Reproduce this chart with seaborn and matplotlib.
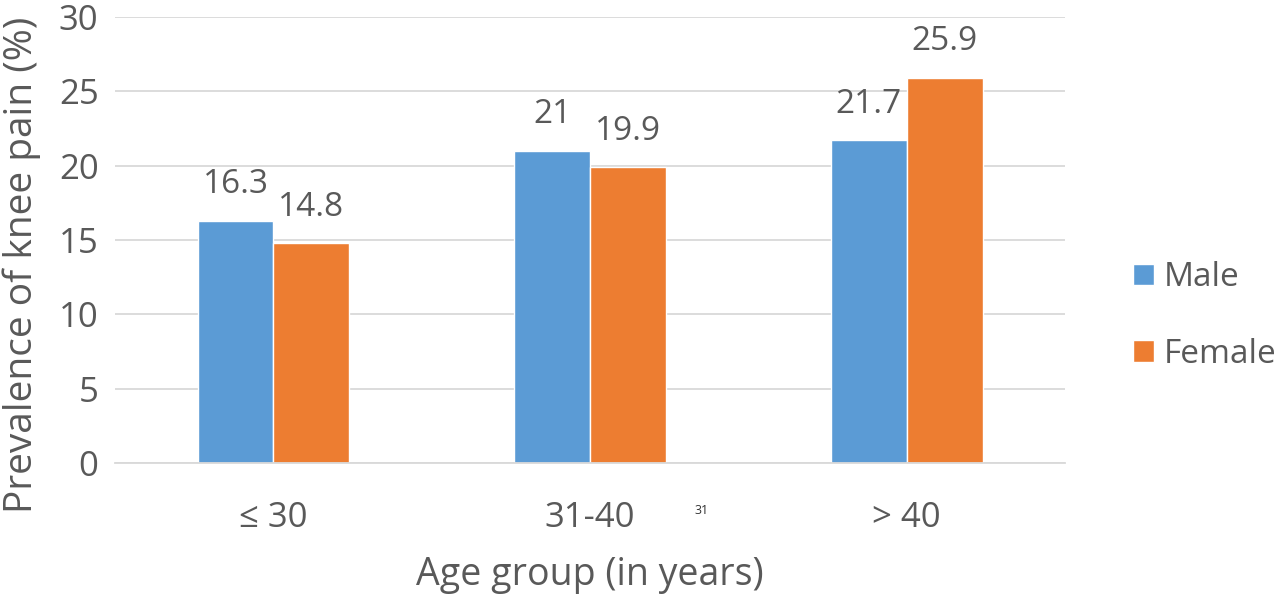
import matplotlib
matplotlib.use("Agg")
import matplotlib.pyplot as plt
import seaborn as sns
import pandas as pd

categories = ["\u2264 30", "31-40", "> 40"]
male = [16.3, 21, 21.7]
female = [14.8, 19.9, 25.9]
series = ["Male", "Female"]
colors = ["#5B9BD5", "#ED7D31"]

df = pd.DataFrame({
    "Age": categories * 2,
    "Sex": ["Male"] * 3 + ["Female"] * 3,
    "Value": male + female,
})

sns.set_theme(style="white")
plt.rcParams['font.family'] = ['Open Sans', 'DejaVu Sans']
text_color = "#595959"

fig = plt.figure(figsize=(12.8, 6), dpi=100)
ax = fig.add_axes([0.09, 0.228, 0.742, 0.744])
sns.barplot(data=df, x="Age", y="Value", hue="Sex", order=categories, hue_order=series,
            palette=colors, width=0.48, ax=ax, saturation=1, legend=True)

ax.set_ylim(0, 30)
ax.set_xlim(-0.5, 2.5)
ax.set_yticks(range(0, 31, 5))
ax.yaxis.grid(True, color="#D9D9D9", linewidth=1.3)
ax.set_axisbelow(True)
for s in ["top", "right", "left"]:
    ax.spines[s].set_visible(False)
ax.spines["bottom"].set_color("#D9D9D9")
ax.spines["bottom"].set_linewidth(1.3)
ax.tick_params(axis="both", length=0, labelsize=25, labelcolor=text_color)
ax.tick_params(axis="y", pad=12)
ax.tick_params(axis="x", pad=27)
ax.set_xlabel("Age group (in years)", fontsize=27, color=text_color, labelpad=15)
ax.set_ylabel("Prevalence of knee pain (%)", fontsize=28, color=text_color)
ax.yaxis.set_label_coords(-0.098, 0.444)
ax.yaxis.label.set_verticalalignment("center")
ax.yaxis.label.set_horizontalalignment("center")

for cont in ax.containers:
    labels = [("%g" % b.get_height()) for b in cont]
    ax.bar_label(cont, labels=labels, padding=14, fontsize=24, color=text_color)

leg = ax.legend(loc="center left", bbox_to_anchor=(1.072, 0.33), frameon=False,
                fontsize=24, labelcolor=text_color, handlelength=0.62, handleheight=0.62,
                handletextpad=0.3, labelspacing=1.3, borderaxespad=0, borderpad=0)

fig.text(702 / 1280, 1 - 511 / 600, "31", fontsize=9, color="#333333", ha="center", va="center")

fig.savefig("out.png", dpi=100)
